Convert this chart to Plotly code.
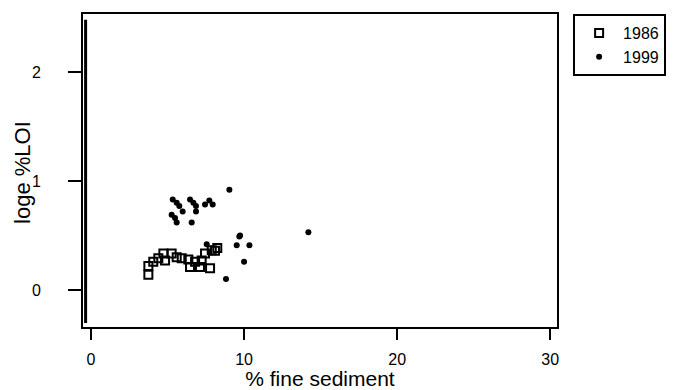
import plotly.graph_objects as go

# 1986 data (% fine sediment, loge %LOI)
x1986 = [3.75, 3.75, 4.07, 4.4, 4.73, 4.84, 5.27, 5.6, 5.93, 6.36, 6.47, 6.8, 7.12, 7.23, 7.45, 7.78, 7.89, 8.25, 8.1]
y1986 = [0.14, 0.22, 0.26, 0.29, 0.335, 0.27, 0.335, 0.30, 0.29, 0.28, 0.21, 0.26, 0.21, 0.27, 0.335, 0.20, 0.365, 0.385, 0.36]

# 1999 data
x1999 = [9.04, 5.34, 5.6, 5.77, 5.99, 6.47, 6.69, 6.86, 6.86, 7.45, 7.73, 7.95, 5.27, 5.49, 5.6, 6.58,
         9.74, 14.2, 9.69, 9.52, 10.35, 10.0, 8.82, 7.56]
y1999 = [0.92, 0.83, 0.80, 0.77, 0.72, 0.83, 0.80, 0.77, 0.72, 0.785, 0.82, 0.785, 0.69, 0.66, 0.62, 0.62,
         0.50, 0.53, 0.49, 0.41, 0.41, 0.26, 0.10, 0.42]

x_ticks = [0, 10, 20, 30]
y_ticks = [0, 1, 2]

FONT = "Liberation Sans, Arial, sans-serif"

fig = go.Figure()
fig.add_trace(go.Scatter(
    x=x1986, y=y1986, mode="markers", name="1986",
    marker=dict(symbol="square-open", size=8, color="black", line=dict(width=2, color="black")),
))
fig.add_trace(go.Scatter(
    x=x1999, y=y1999, mode="markers", name="1999",
    marker=dict(symbol="circle", size=6, color="black"),
))

fig.update_layout(
    width=677, height=390,
    margin=dict(l=83, r=120, t=14, b=63, autoexpand=False),
    paper_bgcolor="white", plot_bgcolor="white",
    font=dict(family=FONT, color="black", size=16),
    showlegend=True,
    legend=dict(
        x=1.034, y=1.0, xanchor="left", yanchor="top",
        bordercolor="black", borderwidth=2, bgcolor="white",
        font=dict(size=16, family=FONT),
        itemwidth=38, tracegroupgap=0,
    ),
    xaxis=dict(
        range=[-0.52, 30.44], tickvals=x_ticks, ticktext=[str(v) for v in x_ticks],
        showgrid=False, zeroline=False, automargin=False,
        showline=True, linecolor="black", linewidth=2, mirror=True,
        ticks="outside", ticklen=11, tickwidth=2, tickcolor="black",
        tickfont=dict(size=16), ticklabelstandoff=6,
        title=dict(text="% fine sediment", font=dict(size=21), standoff=0),
    ),
    yaxis=dict(
        range=[-0.34, 2.533], tickvals=y_ticks, ticktext=[str(v) for v in y_ticks],
        showgrid=False, zeroline=False, automargin=False,
        showline=True, linecolor="black", linewidth=2, mirror=True,
        ticks="outside", ticklen=13, tickwidth=2, tickcolor="black",
        tickfont=dict(size=16), ticklabelstandoff=24,
    ),
    annotations=[dict(
        text="loge %LOI", xref="paper", yref="paper",
        x=-0.129, y=0.495, xanchor="center", yanchor="middle",
        textangle=-90, showarrow=False, font=dict(size=22, family=FONT),
    )],
)

# thick inner left axis bar
fig.add_shape(type="line", xref="paper", yref="paper",
              x0=0.0055, x1=0.0055, y0=0.013, y1=0.982,
              line=dict(color="black", width=3))

fig.write_html("out.html")
